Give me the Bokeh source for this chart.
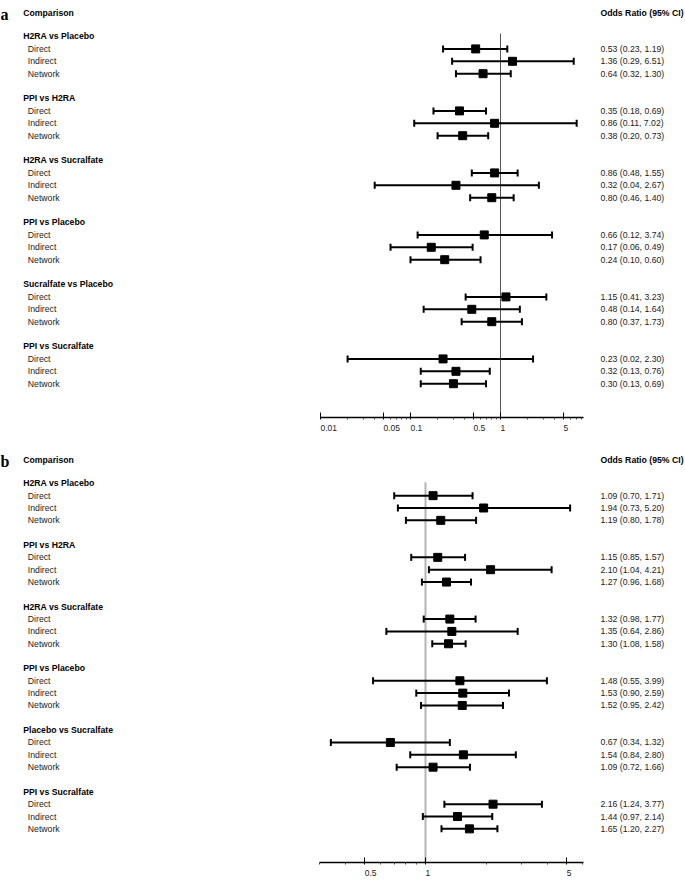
import numpy as np
from bokeh.plotting import figure
from bokeh.layouts import column
from bokeh.models import (Range1d, LogScale, LogAxis, FixedTicker,
                          CustomJSTickFormatter, ColumnDataSource)
from bokeh.core.properties import value
from bokeh.embed import file_html
from bokeh.resources import INLINE

# ---------------- data ----------------
evidence = ["Direct", "Indirect", "Network"]

comparisons_a = ["H2RA vs Placebo", "PPI vs H2RA", "H2RA vs Sucralfate",
                 "PPI vs Placebo", "Sucralfate vs Placebo", "PPI vs Sucralfate"]
or_a = [0.53, 1.36, 0.64, 0.35, 0.86, 0.38, 0.86, 0.32, 0.80,
        0.66, 0.17, 0.24, 1.15, 0.48, 0.80, 0.23, 0.32, 0.30]
lo_a = [0.23, 0.29, 0.32, 0.18, 0.11, 0.20, 0.48, 0.04, 0.46,
        0.12, 0.06, 0.10, 0.41, 0.14, 0.37, 0.02, 0.13, 0.13]
hi_a = [1.19, 6.51, 1.30, 0.69, 7.02, 0.73, 1.55, 2.67, 1.40,
        3.74, 0.49, 0.60, 3.23, 1.64, 1.73, 2.30, 0.76, 0.69]
ticks_a = [0.01, 0.05, 0.1, 0.5, 1, 5]
minor_a = [0.02, 0.03, 0.04, 0.06, 0.07, 0.08, 0.09, 0.2, 0.3, 0.4,
           0.6, 0.7, 0.8, 0.9, 2, 3, 4, 6, 7, 8]

comparisons_b = ["H2RA vs Placebo", "PPI vs H2RA", "H2RA vs Sucralfate",
                 "PPI vs Placebo", "Placebo vs Sucralfate", "PPI vs Sucralfate"]
or_b = [1.09, 1.94, 1.19, 1.15, 2.10, 1.27, 1.32, 1.35, 1.30,
        1.48, 1.53, 1.52, 0.67, 1.54, 1.09, 2.16, 1.44, 1.65]
lo_b = [0.70, 0.73, 0.80, 0.85, 1.04, 0.96, 0.98, 0.64, 1.08,
        0.55, 0.90, 0.95, 0.34, 0.84, 0.72, 1.24, 0.97, 1.20]
hi_b = [1.71, 5.20, 1.78, 1.57, 4.21, 1.68, 1.77, 2.86, 1.58,
        3.99, 2.59, 2.42, 1.32, 2.80, 1.66, 3.77, 2.14, 2.27]
ticks_b = [0.5, 1, 5]
minor_b = [0.3, 0.4, 0.6, 0.7, 0.8, 0.9, 2, 3, 4, 6]

W = 685
FONT = value("Liberation Sans")
FS = value("8.7px")
ROW_TOP = -2.903
ROW_BOTTOM = 30.726

# left-aligned tick labels: pad with no-break spaces so the centred
# label starts at its tick
TICK_FMT = CustomJSTickFormatter(code="""
const s = String(tick);
let pad = "";
for (const ch of s) { pad += (ch === "." ? "\\u00A0" : "\\u00A0\\u00A0"); }
return pad + s;
""")


def make_panel(letter, comps, orv, lo, hi, ticks, minor, height, bborder,
               px_one, px_dec, bounds, vcolor, vwidth, vtop):
    p = figure(width=W, height=height,
               x_range=Range1d(0, W), y_range=Range1d(ROW_BOTTOM, ROW_TOP),
               x_axis_type=None, y_axis_type=None,
               toolbar_location=None, output_backend="svg",
               min_border=0, min_border_left=0, min_border_right=0,
               min_border_top=0, min_border_bottom=bborder,
               outline_line_color=None, background_fill_color="white",
               border_fill_color="white")
    p.extra_x_ranges = {"or": Range1d(10 ** (-px_one / px_dec),
                                      10 ** ((W - px_one) / px_dec))}
    p.extra_x_scales = {"or": LogScale()}

    rows, labels, txt = [], [], []
    for g, c in enumerate(comps):
        for k, e in enumerate(evidence):
            i = 3 * g + k
            rows.append(5 * g + 1 + k)
            labels.append(e)
            txt.append(f"{orv[i]:.2f} ({lo[i]:.2f}, {hi[i]:.2f})")
    src = ColumnDataSource(dict(row=rows, est=orv, lo=lo, hi=hi,
                                lab=labels, txt=txt))

    # reference line at OR = 1
    p.segment(x0=[1], x1=[1], y0=[vtop], y1=[ROW_BOTTOM], x_range_name="or",
              line_color=vcolor, line_width=vwidth)

    # confidence intervals
    p.segment(x0="lo", x1="hi", y0="row", y1="row", source=src,
              x_range_name="or", line_color="black", line_width=2)
    for col in ("lo", "hi"):
        p.scatter(x=col, y="row", source=src, x_range_name="or",
                  marker="dash", angle=np.pi / 2, size=7,
                  line_color="black", line_width=2)
    p.scatter(x="est", y="row", source=src, x_range_name="or",
              marker="square", size=8, fill_color="black",
              line_color="black")

    # texts
    hdr_row = -1.855
    p.text(x=[0], y=[hdr_row + 0.05], text=[letter],
           text_font=value("Liberation Serif"), text_font_style="bold",
           text_font_size=value("16px"), text_baseline="middle",
           text_align="left", text_color="black")
    p.text(x=[22.7], y=[hdr_row], text=["Comparison"], text_font=FONT,
           text_font_style="bold", text_font_size=FS,
           text_baseline="middle", text_color="black")
    p.text(x=[600], y=[hdr_row], text=["Odds Ratio (95% CI)"],
           text_font=FONT, text_font_style="bold", text_font_size=FS,
           text_baseline="middle", text_color="black")
    p.text(x=[22.7] * len(comps), y=[5 * g for g in range(len(comps))],
           text=comps, text_font=FONT, text_font_style="bold",
           text_font_size=FS, text_baseline="middle", text_color="black")
    p.text(x=27.3, y="row", text="lab", source=src, text_font=FONT,
           text_font_size=FS, text_baseline="middle", text_color="#222222")
    p.text(x=600, y="row", text="txt", source=src, text_font=FONT,
           text_font_size=FS, text_baseline="middle", text_color="#222222")

    ax = LogAxis(x_range_name="or",
                 ticker=FixedTicker(ticks=ticks, minor_ticks=minor),
                 formatter=TICK_FMT, bounds=bounds)
    ax.axis_line_color = "black"
    ax.axis_line_width = 1.6
    ax.major_tick_line_color = "black"
    ax.major_tick_line_width = 1
    ax.major_tick_in = 5
    ax.major_tick_out = 2
    ax.minor_tick_line_color = "#444444"
    ax.minor_tick_line_width = 1
    ax.minor_tick_in = 0
    ax.minor_tick_out = 2
    ax.major_label_standoff = 3
    ax.major_label_text_font = "Liberation Sans"
    ax.major_label_text_font_size = "8.5px"
    ax.major_label_text_color = "#222222"
    p.add_layout(ax, "below")
    return p


pa = make_panel("a", comparisons_a, or_a, lo_a, hi_a, ticks_a, minor_a,
                height=447, bborder=30, px_one=500, px_dec=90,
                bounds=(0.01, 8.4), vcolor="#555555", vwidth=1, vtop=-0.24)
pb = make_panel("b", comparisons_b, or_b, lo_b, hi_b, ticks_b, minor_b,
                height=433, bborder=16, px_one=425, px_dec=202,
                bounds=(0.3, 6.05), vcolor="#b4b4b4", vwidth=2, vtop=-0.08)

layout = column(pa, pb, spacing=0)
open("out.html", "w").write(file_html(layout, INLINE))
